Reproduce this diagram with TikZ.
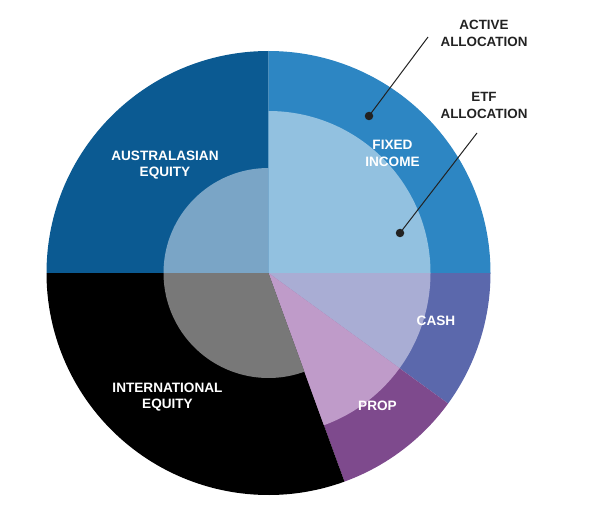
\documentclass[tikz,border=0pt]{standalone}
\usepackage{fontspec}
\setmainfont{Liberation Sans}
\definecolor{ausout}{HTML}{0B5A92}
\definecolor{ausin}{HTML}{7AA5C6}
\definecolor{fixout}{HTML}{2D86C3}
\definecolor{fixin}{HTML}{92C1E0}
\definecolor{cashout}{HTML}{5B68AC}
\definecolor{cashin}{HTML}{A9ADD4}
\definecolor{propout}{HTML}{7E4A8D}
\definecolor{propin}{HTML}{BF9BC9}
\definecolor{intout}{HTML}{000000}
\definecolor{intin}{HTML}{787878}
\definecolor{leader}{HTML}{222222}
\begin{document}
\begin{tikzpicture}
  [x=1pt,y=1pt,
   inlbl/.style={text=white,font=\fontsize{13.6}{16.5}\selectfont\bfseries,align=center,inner sep=0pt},
   outlbl/.style={text=leader,font=\fontsize{13.4}{16.5}\selectfont\bfseries,align=center,inner sep=0pt},
   dot/.style={circle,fill=leader,inner sep=0pt,minimum size=8.5pt}]
  \useasboundingbox (0,0) rectangle (600,515);
  \coordinate (c) at (268.5,242);
  % outer ring
  \fill[ausout] (c) -- ++(90:222) arc[start angle=90,end angle=180,radius=222] -- cycle;
  \fill[fixout] (c) -- ++(0:222) arc[start angle=0,end angle=90,radius=222] -- cycle;
  \fill[cashout] (c) -- ++(0:222) arc[start angle=0,end angle=-36,radius=222] -- cycle;
  \fill[propout] (c) -- ++(-36:222) arc[start angle=-36,end angle=-70,radius=222] -- cycle;
  \fill[intout] (c) -- ++(-70:222) arc[start angle=-70,end angle=-180,radius=222] -- cycle;
  % etf part
  \fill[ausin] (c) -- ++(90:105) arc[start angle=90,end angle=180,radius=105] -- cycle;
  \fill[fixin] (c) -- ++(0:162) arc[start angle=0,end angle=90,radius=162] -- cycle;
  \fill[cashin] (c) -- ++(0:162) arc[start angle=0,end angle=-36,radius=162] -- cycle;
  \fill[propin] (c) -- ++(-36:162) arc[start angle=-36,end angle=-70,radius=162] -- cycle;
  \fill[intin] (c) -- ++(-70:105) arc[start angle=-70,end angle=-180,radius=105] -- cycle;

  \node[inlbl] (aus) at (165,350) {AUSTRALASIAN\\EQUITY};
  \node[inlbl] (int) at (167.5,118) {INTERNATIONAL\\EQUITY};
  \node[inlbl] (fix) at (392.5,361.5) {FIXED\\INCOME};
  \node[inlbl] (cash) at (436,194) {CASH};
  \node[inlbl] (prop) at (377.5,109.5) {PROP};
  \node[outlbl] (act) at (484,481.5) {ACTIVE\\ALLOCATION};
  \node[outlbl] (etf) at (484,409.5) {ETF\\ALLOCATION};

  \coordinate (actend) at (428,478);
  \coordinate (etfend) at (477,382);
  \node[dot] (actdot) at (369,399) {};
  \node[dot] (etfdot) at (400,282) {};
  \path[draw,leader,line width=1pt]
        (actend) edge (actdot.center)
        (etfend) edge (etfdot.center);
\end{tikzpicture}
\end{document}
